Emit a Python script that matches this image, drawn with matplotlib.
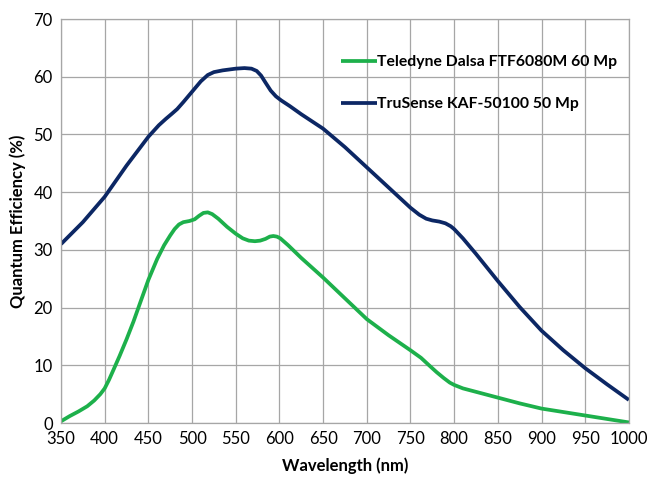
import numpy as np
import matplotlib
matplotlib.use("Agg")
import matplotlib.pyplot as plt

# wavelengths (nm) and quantum efficiency (%)
wl_dalsa = [350, 360, 370, 380, 388, 395, 400, 405, 410, 417, 425, 433, 441, 450, 460, 468, 475,
            480, 485, 490, 497, 503, 508, 513, 518, 523, 530, 540, 550, 558, 565, 572, 578,
            584, 589, 593, 597, 601, 610, 625, 650, 675, 700, 725, 750, 762, 772, 780, 788,
            795, 800, 810, 825, 850, 875, 900, 925, 950, 975, 1000]
qe_dalsa = [0.3, 1.2, 2.0, 2.9, 3.9, 5.0, 6.0, 7.5, 9.2, 11.6, 14.5, 17.6, 21.0, 24.8, 28.4, 30.8, 32.5,
            33.6, 34.4, 34.8, 35.0, 35.3, 35.9, 36.4, 36.5, 36.2, 35.4, 34.0, 32.8, 32.0, 31.6, 31.5, 31.6,
            31.9, 32.3, 32.4, 32.3, 32.0, 30.8, 28.6, 25.2, 21.6, 18.0, 15.2, 12.6, 11.3, 9.9, 8.8, 7.8,
            7.0, 6.6, 6.0, 5.4, 4.4, 3.4, 2.5, 1.9, 1.3, 0.7, 0.1]

wl_trusense = [350, 375, 400, 425, 450, 462, 470, 477, 483, 490, 500, 510, 518, 525, 535, 550,
               560, 568, 574, 579, 584, 590, 596, 602, 612, 625, 650, 675, 700, 725, 750,
               760, 768, 775, 783, 790, 796, 800, 810, 825, 850, 875, 900, 925, 950, 975, 1000]
qe_trusense = [31.0, 34.8, 39.2, 44.6, 49.6, 51.6, 52.7, 53.6, 54.4, 55.6, 57.4, 59.2, 60.3, 60.8, 61.1, 61.4,
               61.5, 61.4, 61.0, 60.2, 59.0, 57.6, 56.6, 55.9, 54.9, 53.5, 51.0, 47.8, 44.3, 40.8, 37.3,
               36.1, 35.4, 35.1, 34.9, 34.6, 34.1, 33.6, 32.0, 29.3, 24.6, 20.1, 16.0, 12.6, 9.5, 6.7, 4.0]

labels = ["Teledyne Dalsa FTF6080M 60 Mp", "TruSense KAF-50100 50 Mp"]

plt.rcParams['font.family'] = ['Lato', 'DejaVu Sans']

fig = plt.figure(figsize=(6.47, 4.79), dpi=100)
ax = fig.add_axes([0.0943, 0.1169, 0.8777, 0.8434])

ax.plot(wl_dalsa, qe_dalsa, color='#1db04b', lw=2.7, label=labels[0],
        solid_joinstyle='round', solid_capstyle='butt')
ax.plot(wl_trusense, qe_trusense, color='#0c2764', lw=2.7, label=labels[1],
        solid_joinstyle='round', solid_capstyle='butt')

ax.set_xlim(350, 1000)
ax.set_ylim(0, 70)
ax.set_xticks(np.arange(350, 1001, 50))
ax.set_yticks(np.arange(0, 71, 10))
ax.grid(True, color='#a6a6a6', lw=0.9)
ax.set_axisbelow(True)
for s in ax.spines.values():
    s.set_color('#a6a6a6')
    s.set_linewidth(0.9)
ax.tick_params(length=0, labelsize=12, pad=6)

ax.set_xlabel("Wavelength (nm)", fontsize=12, fontweight='bold', labelpad=7)
ax.set_ylabel("Quantum Efficiency (%)", fontsize=12, fontweight='bold', labelpad=5)

leg = ax.legend(loc='upper left', bbox_to_anchor=(0.469, 0.9455), frameon=False,
                handlelength=2.25, handletextpad=0.0, labelspacing=1.8,
                prop={'weight': 'bold', 'size': 11.3})

fig.savefig("out.png", dpi=100)
